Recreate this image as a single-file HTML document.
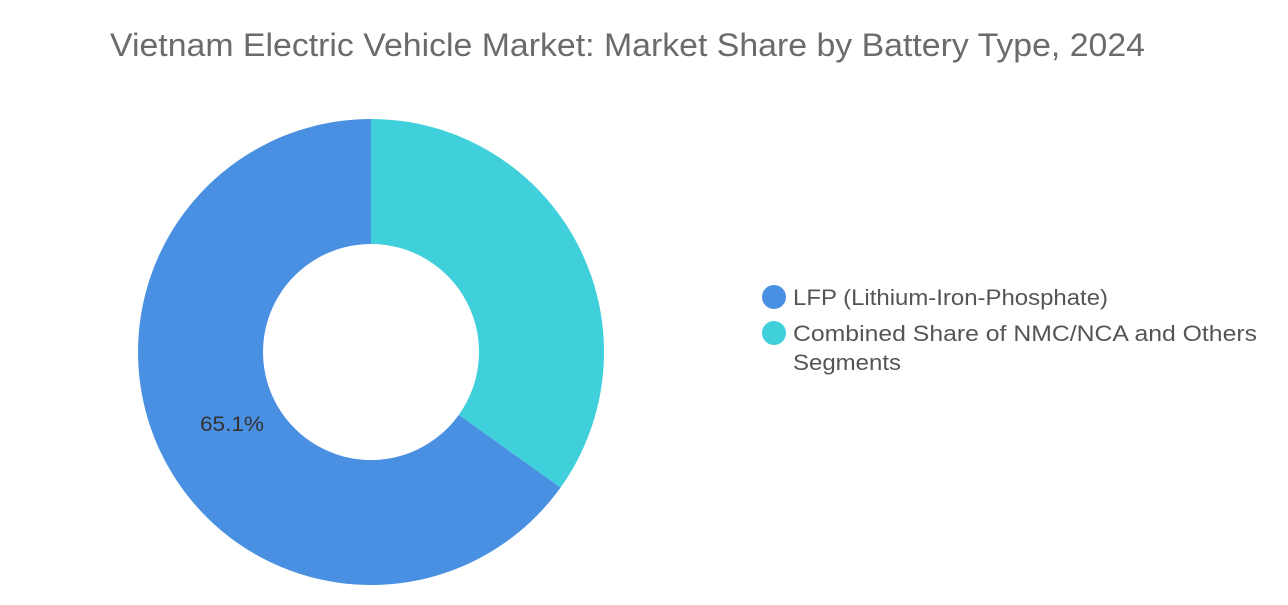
<!DOCTYPE html>
<html><head><meta charset="utf-8"><style>
body{margin:0;width:1288px;height:600px;background:#fff;overflow:hidden;font-family:"Liberation Sans",sans-serif;}
</style></head><body>
<svg width="1288" height="600" xmlns="http://www.w3.org/2000/svg">
<text x="110" y="56" font-size="32" fill="#6b6b6b" textLength="1035" lengthAdjust="spacingAndGlyphs" font-family="Liberation Sans, sans-serif">Vietnam Electric Vehicle Market: Market Share by Battery Type, 2024</text>
<path d="M371 119 A233 233 0 0 1 560.5 487.6 L458.8 414.9 A108 108 0 0 0 371 244 Z" fill="#40d0dc"/>
<path d="M560.5 487.6 A233 233 0 1 1 371 119 L371 244 A108 108 0 1 0 458.8 414.9 Z" fill="#4a90e2"/>
<text x="200" y="431" font-size="21" fill="#333" textLength="64" lengthAdjust="spacingAndGlyphs">65.1%</text>
<circle cx="774" cy="297" r="12" fill="#4a90e2"/>
<circle cx="774" cy="333" r="12" fill="#40d0dc"/>
<g font-size="22" fill="#555">
<text x="793" y="305" textLength="315" lengthAdjust="spacingAndGlyphs">LFP (Lithium-Iron-Phosphate)</text>
<text x="793" y="341" textLength="464" lengthAdjust="spacingAndGlyphs">Combined Share of NMC/NCA and Others</text>
<text x="793" y="370" textLength="108" lengthAdjust="spacingAndGlyphs">Segments</text>
</g>
</svg>
</body></html>
